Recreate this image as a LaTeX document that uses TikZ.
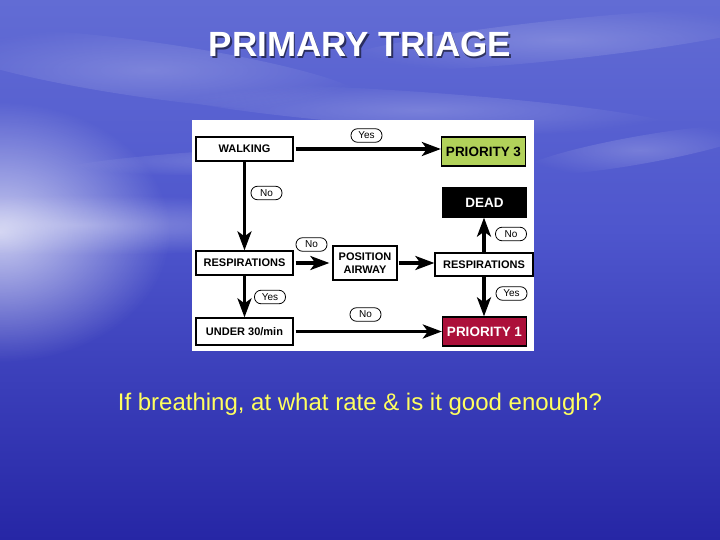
\documentclass[tikz,border=0pt]{standalone}
\usepackage{fontspec}
\setmainfont{Liberation Sans}
\usetikzlibrary{arrows.meta,positioning,fadings}

\definecolor{skytop}{RGB}{98,108,212}
\definecolor{skymid}{RGB}{78,86,205}
\definecolor{seamid}{RGB}{60,64,190}
\definecolor{seadeep}{RGB}{38,38,165}
\definecolor{prio3}{RGB}{178,210,90}
\definecolor{prio1}{RGB}{172,16,58}
\definecolor{noteyellow}{RGB}{255,255,95}

\tikzfading[name=glowfade, inner color=transparent!0, outer color=transparent!100]

\tikzset{
  box/.style={draw=black, line width=1.3pt, fill=white, minimum width=97pt,
    minimum height=24pt, inner sep=1pt,
    font=\fontsize{11}{13}\selectfont\bfseries},
  prio/.style={box, minimum width=84pt, minimum height=29pt,
    font=\fontsize{13.5}{15}\selectfont\bfseries},
  pill/.style={draw=black, line width=0.8pt, rounded corners=6.5pt, fill=white,
    minimum width=31pt, minimum height=13.5pt, inner sep=0pt,
    font=\fontsize{10}{10}\selectfont},
  flow/.style={line width=3.2pt, -{Stealth[length=19pt,width=14pt,inset=5pt]}},
}

\begin{document}
\begin{tikzpicture}[x=1pt,y=-1pt]
    \useasboundingbox (0,0) rectangle (720,540);

    % sky and sea
    \fill[top color=skytop, bottom color=skymid] (0,0) rectangle (720,230);
    \fill[top color=skymid, bottom color=seadeep] (0,230) rectangle (720,540);
    \fill[white, opacity=0.7, path fading=glowfade] (0,232) ellipse [x radius=170, y radius=130];
    \fill[white, opacity=0.3, path fading=glowfade] (80,225) ellipse [x radius=320, y radius=30];
    \foreach \cx/\cy/\rx/\ry/\rot in {150/70/220/28/-8, 560/40/230/20/6, 420/110/260/18/-4, 640/150/120/14/10, 260/160/200/12/3}
    \fill[white, opacity=0.2, path fading=glowfade, rotate around={\rot:(\cx,\cy)}] (\cx,\cy) ellipse [x radius=\rx, y radius=\ry];

    % title
    \node[anchor=base, font=\fontsize{35}{40}\selectfont\bfseries, text=black, opacity=0.55]
      (titleshadow) at (361.5,58.5) {PRIMARY TRIAGE};
    \node[anchor=base, font=\fontsize{35}{40}\selectfont\bfseries, text=white]
      (title) at (360,57) {PRIMARY TRIAGE};

    % chart panel
    \fill[white] (192,120) rectangle (534,351);

    \node[box] (walk) at (244.5,149) {WALKING};
    \node[prio, fill=prio3] (p3) at (483.5,151.5) {PRIORITY 3};
    \node[prio, fill=black, text=white] (dead) at (484.5,202.5) {DEAD};
    \node[box] (respL) at (244.5,263) {RESPIRATIONS};
    \node[box, minimum width=64pt, minimum height=34pt, align=center] (pos) at (365,263) {POSITION\\AIRWAY};
    \node[box, minimum width=98pt, minimum height=23pt] (respR) at (484,264.5) {RESPIRATIONS};
    \node[box, minimum height=27pt] (under) at (244.5,331.5) {UNDER 30/min};
    \node[prio, fill=prio1, text=white] (p1) at (484.5,331.5) {PRIORITY 1};

    \draw[flow, shorten <=2pt] (walk.east) -- (walk.east -| p3.west);
    \draw[flow] (walk.south) -- (respL.north);
    \draw[flow, shorten <=2pt, shorten >=3pt] (respL.east) -- (pos.west);
    \draw[flow, shorten <=1pt] (pos.east) -- (pos.east -| respR.west);
    \draw[flow] (respR.north) -- (respR.north |- dead.south);
    \draw[flow] (respL.south) -- (under.north);
    \draw[flow] (respR.south) -- (respR.south |- p1.north);
    \draw[flow, shorten <=2pt] (under.east) -- (under.east -| p1.west);

    \node[pill] (yesA) at (366.5,135.5) {Yes};
    \node[pill] (noA) at (266.5,193) {No};
    \node[pill] (noB) at (311.5,244.5) {No};
    \node[pill] (noC) at (511,234) {No};
    \node[pill] (yesB) at (270,297) {Yes};
    \node[pill] (yesC) at (511.5,293.5) {Yes};
    \node[pill] (noD) at (365.5,314.5) {No};

    % question below
    \node[anchor=base, font=\fontsize{24}{28}\selectfont, text=noteyellow]
      (note) at (360,410.5) {If breathing, at what rate \& is it good enough?};

\end{tikzpicture}
\end{document}
